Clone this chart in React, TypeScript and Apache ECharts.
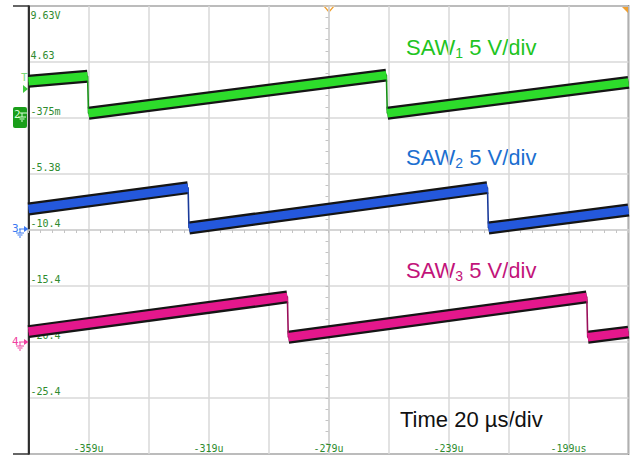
import React, { useEffect, useRef } from 'react';
import * as echarts from 'echarts';

// ---- Data (time in µs, voltage in V) ----
const timeTickLabels = ['', '-359u', '', '-319u', '', '-279u', '', '-239u', '', '-199us', ''];
const voltTickLabels = ['', '-25.4', '-20.4', '-15.4', '-10.4', '-5.38', '-375m', '4.63', '9.63V'];

const saw1Time = [-379, -359.3, -359.0, -259.7, -259.4, -179];
const saw1Volt = [2.9, 3.35, 0.05, 3.45, 0.05, 2.8];
const saw2Time = [-379, -325.8, -325.5, -226.0, -225.7, -179];
const saw2Volt = [-8.5, -6.6, -10.2, -6.6, -10.2, -8.6];
const saw3Time = [-379, -292.7, -292.4, -192.9, -192.6, -179];
const saw3Volt = [-19.45, -16.35, -19.95, -16.35, -19.95, -19.5];

const channelNames = ['SAW1', 'SAW2', 'SAW3'];
const channelSub = ['1', '2', '3'];
const labelText = ' 5 V/div';
const timeText = 'Time 20 µs/div';

const coreColors = ['#2ddc2b', '#2458dc', '#e4178c'];
const dropColors = ['#169016', '#1a3a9a', '#9a0f5a'];
const textColors = ['#22c41f', '#1c6fd0', '#c2147a'];

function rampData(t: number[], v: number[]) {
  const out: any[] = [];
  for (let i = 0; i < t.length; i++) {
    out.push([t[i], v[i]]);
    if (i + 1 < t.length && t[i + 1] - t[i] < 1) out.push([t[i], '-']);
  }
  return out;
}
function fullData(t: number[], v: number[]) {
  return t.map((x, i) => [x, v[i]]);
}

function gnd(cx: number, y: number, color: string) {
  const st = { stroke: color, lineWidth: 1 };
  return [
    { type: 'line', shape: { x1: cx, y1: y, x2: cx, y2: y + 4 }, style: st },
    { type: 'line', shape: { x1: cx - 4, y1: y + 4, x2: cx + 4, y2: y + 4 }, style: st },
    { type: 'line', shape: { x1: cx - 2.5, y1: y + 6, x2: cx + 2.5, y2: y + 6 }, style: st },
    { type: 'line', shape: { x1: cx - 1, y1: y + 8, x2: cx + 1, y2: y + 8 }, style: st },
  ];
}

export default function App() {
  const ref = useRef<HTMLDivElement>(null);
  useEffect(() => {
    if (!ref.current) return;
    const chart = echarts.init(ref.current, undefined, { renderer: 'svg' });
    const times = [saw1Time, saw2Time, saw3Time];
    const volts = [saw1Volt, saw2Volt, saw3Volt];
    const series: any[] = [];
    for (let c = 0; c < 3; c++) {
      const base = { type: 'line', xAxisIndex: 0, yAxisIndex: 0, symbol: 'none', silent: true, smooth: false, connectNulls: false };
      series.push({ ...base, name: channelNames[c] + ' edge', data: rampData(times[c], volts[c]), lineStyle: { color: '#151515', width: 13, cap: 'butt' }, z: 3 });
      series.push({ ...base, name: channelNames[c] + ' drop', data: fullData(times[c], volts[c]), lineStyle: { color: dropColors[c], width: 1.6 }, z: 4 });
      series.push({ ...base, name: channelNames[c], data: rampData(times[c], volts[c]), lineStyle: { color: coreColors[c], width: 8.5, cap: 'butt' }, z: 5 });
    }

    const monoLbl = { fontFamily: 'DejaVu Sans Mono', fontSize: 10, color: '#2e8b2e' };
    const legendTops = [34, 144, 257];
    const graphics: any[] = [];
    for (let c = 0; c < 3; c++) {
      graphics.push({
        type: 'text', x: 406, y: legendTops[c], silent: true,
        style: {
          text: `{m|SAW}{s|${channelSub[c]}}{m|${labelText}}`,
          fill: textColors[c], verticalAlign: 'top', align: 'left',
          rich: {
            m: { fontFamily: 'Liberation Sans', fontSize: 22, lineHeight: 26, fill: textColors[c] },
            s: { fontFamily: 'Liberation Sans', fontSize: 14, lineHeight: 14, verticalAlign: 'bottom', fill: textColors[c] },
          },
        },
      });
    }
    graphics.push({
      type: 'text', x: 400, y: 406, silent: true,
      style: { text: `{m|${timeText}}`, fill: '#111', verticalAlign: 'top', align: 'left',
        rich: { m: { fontFamily: 'Liberation Sans', fontSize: 22, lineHeight: 26, fill: '#111' } } },
    });
    // frame extensions at left
    graphics.push({ type: 'line', shape: { x1: 13, y1: 6, x2: 29, y2: 6 }, style: { stroke: '#333', lineWidth: 1.5 } });
    graphics.push({ type: 'line', shape: { x1: 13, y1: 454, x2: 29, y2: 454 }, style: { stroke: '#333', lineWidth: 1.5 } });
    // trigger markers
    graphics.push({ type: 'polygon', shape: { points: [[324, 6], [334, 6], [329, 12]] }, style: { fill: '#fff', stroke: '#f0a030', lineWidth: 1.2 } });
    graphics.push({ type: 'polygon', shape: { points: [[622, 7], [628, 7], [628, 13]] }, style: { fill: '#f0a030' } });
    graphics.push({ type: 'text', x: 21, y: 72, style: { text: 'T', fill: '#7ada7a', font: '11px DejaVu Sans Mono' } });
    graphics.push({ type: 'polygon', shape: { points: [[23, 85], [28, 89], [23, 93]] }, style: { fill: '#3cc83c' } });
    // channel 2 (green box)
    graphics.push({ type: 'rect', shape: { x: 13, y: 107, width: 14, height: 21, r: 2 }, style: { fill: '#1a9e1a' } });
    graphics.push({ type: 'text', x: 14, y: 109, style: { text: '2', fill: '#d8ffd8', font: '11px DejaVu Sans Mono' } });
    graphics.push({ type: 'line', shape: { x1: 20, y1: 113, x2: 27, y2: 113 }, style: { stroke: '#d8ffd8', lineWidth: 1 } });
    gnd(22, 113, '#d8ffd8').forEach((g) => graphics.push(g));
    // channel 3 (blue)
    graphics.push({ type: 'text', x: 12, y: 223, style: { text: '3', fill: '#3a78f0', font: '11px DejaVu Sans Mono' } });
    graphics.push({ type: 'line', shape: { x1: 19, y1: 229, x2: 24, y2: 229 }, style: { stroke: '#3a78f0', lineWidth: 1 } });
    graphics.push({ type: 'polygon', shape: { points: [[24, 226], [28.5, 229], [24, 232]] }, style: { fill: '#3a78f0' } });
    gnd(20, 229, '#3a78f0').forEach((g) => graphics.push(g));
    // channel 4 (pink)
    graphics.push({ type: 'text', x: 12, y: 336, style: { text: '4', fill: '#f040a0', font: '11px DejaVu Sans Mono' } });
    graphics.push({ type: 'line', shape: { x1: 19, y1: 342, x2: 24, y2: 342 }, style: { stroke: '#f040a0', lineWidth: 1 } });
    graphics.push({ type: 'polygon', shape: { points: [[24, 339], [28.5, 342], [24, 345]] }, style: { fill: '#f040a0' } });
    gnd(20, 342, '#f040a0').forEach((g) => graphics.push(g));

    chart.setOption({
      animation: false,
      backgroundColor: '#ffffff',
      grid: { left: 28.5, top: 6, width: 600, height: 448, show: true, borderColor: '#3a3a3a', borderWidth: 1.5, outerBoundsMode: 'none', containLabel: false },
      xAxis: [
        {
          type: 'value', min: -379, max: -179, interval: 20, position: 'bottom',
          axisLine: { show: false, onZero: false },
          axisTick: { show: false },
          splitLine: { show: true, lineStyle: { color: '#d8d8d8', width: 1.5 } },
          axisLabel: { inside: true, margin: 1, ...monoLbl, formatter: (_v: number, i: number) => timeTickLabels[i] ?? '' },
        },
        {
          type: 'value', min: -5, max: 5, interval: 1, position: 'top',
          axisLine: { show: true, onZero: true, onZeroAxisIndex: 1, lineStyle: { color: '#d0d0d0', width: 1.5 } },
          axisTick: { show: true, inside: true, length: 3, lineStyle: { color: '#c4c4c4' } },
          minorTick: { show: true, splitNumber: 5, length: 3, lineStyle: { color: '#c4c4c4' } },
          splitLine: { show: false },
          axisLabel: { show: false },
        },
      ],
      yAxis: [
        {
          type: 'value', min: -30.38, max: 9.62, interval: 5, position: 'left',
          axisLine: { show: true, onZero: false, lineStyle: { color: '#000', width: 1.5 } },
          axisTick: { show: false },
          splitLine: { show: true, lineStyle: { color: '#d8d8d8', width: 1.5 } },
          axisLabel: {
            inside: true, margin: 2, ...monoLbl,
            formatter: (_v: number, i: number) => {
              const s = voltTickLabels[i] ?? '';
              if (!s) return '';
              return i === voltTickLabels.length - 1 ? `{t|${s}}` : `{n|${s}}`;
            },
            rich: {
              t: { ...monoLbl, padding: [18, 0, 0, 0] },
              n: { ...monoLbl, padding: [0, 0, 14, 0] },
            },
          },
        },
        {
          type: 'value', min: -4, max: 4, interval: 1, position: 'right',
          axisLine: { show: true, onZero: true, onZeroAxisIndex: 1, lineStyle: { color: '#d0d0d0', width: 1.5 } },
          axisTick: { show: true, inside: true, length: 3, lineStyle: { color: '#c4c4c4' } },
          minorTick: { show: true, splitNumber: 5, length: 3, lineStyle: { color: '#c4c4c4' } },
          splitLine: { show: false },
          axisLabel: { show: false },
        },
      ],
      series,
      graphic: { elements: graphics },
    });
    return () => chart.dispose();
  }, []);
  return <div ref={ref} style={{ position: 'absolute', left: 0, top: 0, width: 640, height: 455 }} />;
}
